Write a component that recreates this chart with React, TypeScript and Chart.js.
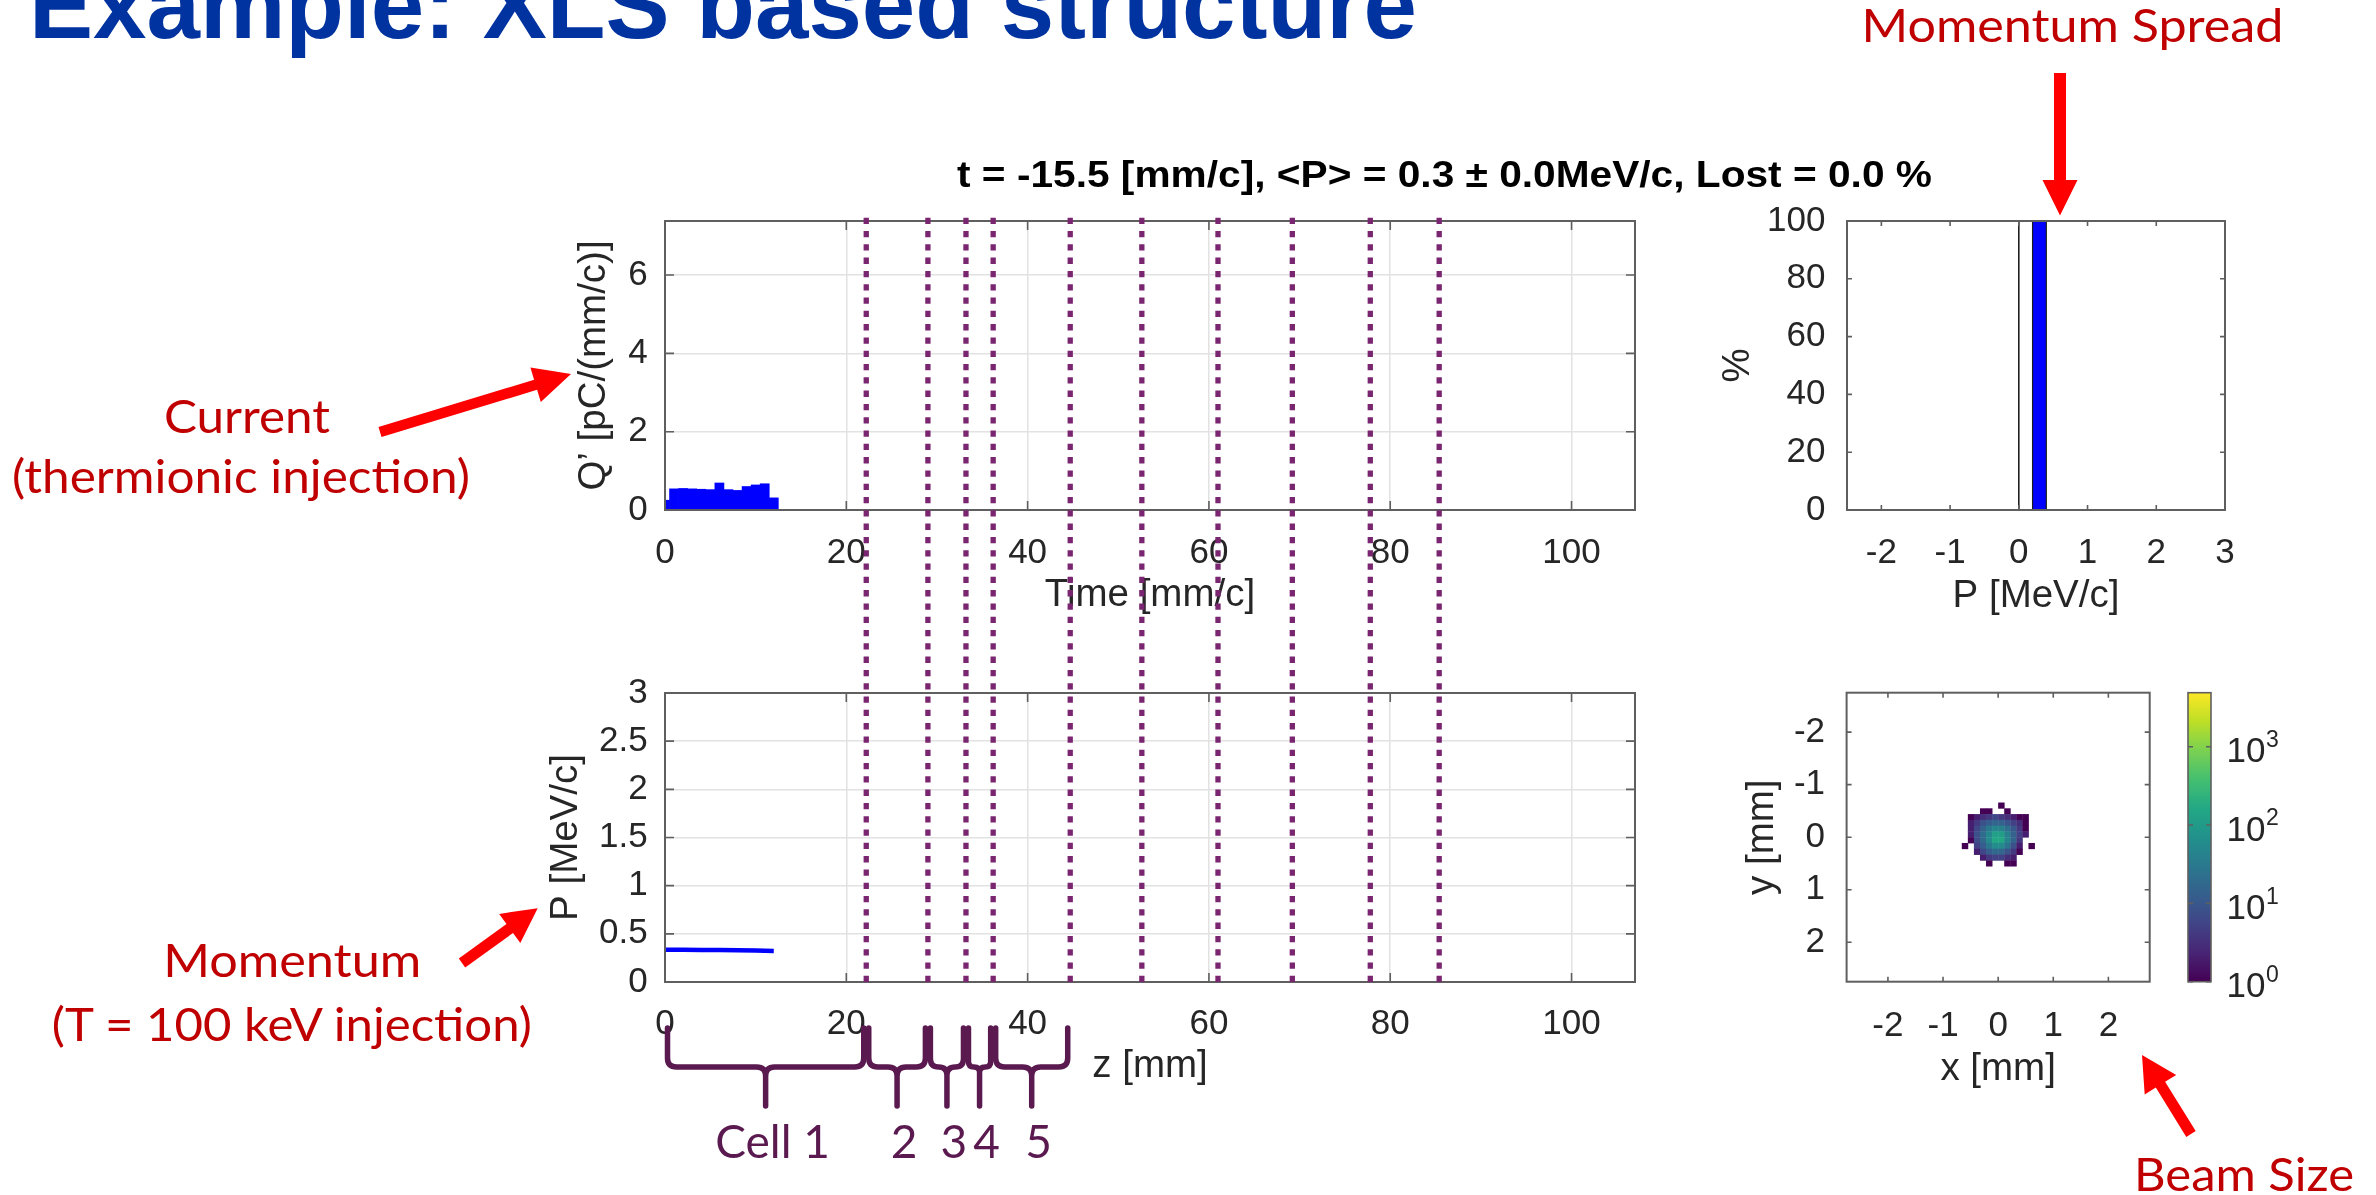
import React, { useEffect, useRef } from 'react';
import { Chart, registerables } from 'chart.js';

Chart.register(...registerables);

// ================= DATA =================
const timeBins = [0, 1, 2, 3, 4, 5, 6, 7, 8, 9, 10, 11, 12];
const chargeDensity = [0.25, 0.54, 0.55, 0.54, 0.53, 0.52, 0.69, 0.52, 0.5, 0.6, 0.64, 0.67, 0.31];
const zSamples = [0, 2, 4, 6, 8, 10, 12];
const momentumSamples = [0.335, 0.334, 0.333, 0.331, 0.329, 0.326, 0.322];
const cellBoundaries = [22.2, 29.0, 33.2, 36.2, 44.7, 52.6, 61.0, 69.2, 77.8, 85.4];
const cellLabels = ['Cell 1', '2', '3', '4', '5'];
const spreadEdges = [0.2, 0.4];
const spreadPercent = [100];
const referenceP = [0];
const leftXTicks = [0, 20, 40, 60, 80, 100];
const leftXRange = [0, 107];
const chargeTicks = [0, 2, 4, 6];
const chargeRange = [0, 7.38];
const momentumTicks = [0, 0.5, 1, 1.5, 2, 2.5, 3];
const momentumRange = [0, 3];
const spreadXTicks = [-2, -1, 0, 1, 2, 3];
const spreadXRange = [-2.5, 3];
const spreadYTicks = [0, 20, 40, 60, 80, 100];
const spreadYRange = [0, 100];
const beamTicks = [-2, -1, 0, 1, 2];
const beamRange = [-2.75, 2.75];
const colorbarTicks = [1, 10, 100, 1000];
const colorbarExponents = ['0', '1', '2', '3'];
const colorbarRange = [1, 4900];
const beamBinWidth = 0.11;
const beamFirstCol = -6;
const beamFirstRow = -6;
// rows top (y=-0.66) to bottom, columns x bins -6..5 (counts per bin, 0 = empty)
const beamCounts = [
  [0, 0, 0, 0, 0, 0, 1, 0, 0, 0, 0, 0],
  [0, 0, 0, 1, 1, 0, 0, 1, 0, 0, 0, 0],
  [0, 1, 2, 3, 4, 6, 4, 3, 2, 1, 1, 0],
  [0, 2, 4, 8, 12, 15, 14, 9, 5, 3, 1, 0],
  [0, 2, 6, 14, 30, 45, 40, 22, 10, 4, 1, 0],
  [0, 2, 8, 20, 50, 120, 110, 40, 14, 5, 2, 0],
  [0, 1, 7, 18, 55, 150, 160, 45, 15, 4, 0, 0],
  [1, 0, 5, 12, 30, 60, 55, 25, 8, 2, 0, 1],
  [0, 0, 2, 6, 12, 18, 16, 9, 4, 1, 0, 0],
  [0, 0, 0, 2, 4, 5, 5, 3, 2, 0, 0, 0],
  [0, 0, 0, 0, 1, 0, 0, 1, 1, 0, 0, 0],
];

// ================= STYLE / LAYOUT =================
const FONT = "'Liberation Sans', Arial, Helvetica, sans-serif";
const SLIDE_FONT = "Lato, 'Open Sans', sans-serif";
const TXT = '#262626';
const AXC = '#5f5f5f';
const GRID = '#e2e2e2';
const DOT = '#7a2570';
const BRACE = '#5a1a50';
const RED_TXT = '#c00000';
const RED = '#ff0000';
const TICK_SIZE = 35;
const TITLE_SIZE = 38.5;

type Rect = { x: number; y: number; w: number; h: number };
type Area = { l: number; t: number; r: number; b: number };

const CANVAS_A: Rect = { x: 480, y: 150, w: 1220, h: 490 };
const AREA_A: Area = { l: 665, t: 221, r: 1635, b: 510 };
const CANVAS_B: Rect = { x: 480, y: 640, w: 1220, h: 555 };
const AREA_B: Area = { l: 665, t: 693, r: 1635, b: 982 };
const CANVAS_C: Rect = { x: 1700, y: 150, w: 676, h: 490 };
const AREA_C: Area = { l: 1847, t: 221, r: 2225, b: 510 };
const CANVAS_D: Rect = { x: 1700, y: 640, w: 676, h: 555 };
const AREA_D: Area = { l: 1846.6, t: 692.7, r: 2149.7, b: 981.7 };

function frame(c: Rect, a: Area, xLabelY: number, xTitleY: number, yLabelRight: number, yTitleX: number) {
  return {
    padding: { left: 0, top: a.t - c.y, right: c.x + c.w - a.r, bottom: 0 },
    yWidth: a.l - c.x,
    xHeight: c.y + c.h - a.b,
    xTickPad: xLabelY - a.b - TICK_SIZE * 0.6,
    xTitlePad: c.y + c.h - xTitleY - TITLE_SIZE * 0.6,
    yTickPad: a.l - yLabelRight,
    yTitlePad: yTitleX - c.x - TITLE_SIZE * 0.6,
  };
}

function axis(o: any) {
  return {
    type: 'linear',
    min: o.range[0],
    max: o.range[1],
    reverse: !!o.reverse,
    offset: false,
    position: o.isX ? 'bottom' : 'left',
    afterBuildTicks: (s: any) => {
      s.ticks = o.ticks.map((v: number) => ({ value: v }));
    },
    afterFit: (s: any) => {
      if (o.isX) s.height = o.size;
      else s.width = o.size;
    },
    grid: { display: !!o.grid, color: GRID, lineWidth: 1.5, drawTicks: false, offset: false },
    border: { display: false },
    ticks: {
      color: TXT,
      font: { family: FONT, size: TICK_SIZE },
      padding: o.tickPad,
      callback: (v: any) => String(v),
      autoSkip: false,
      maxRotation: 0,
      minRotation: 0,
    },
    title: {
      display: true,
      text: o.title,
      color: TXT,
      font: { family: FONT, size: TITLE_SIZE },
      padding: o.isX ? { top: 0, bottom: o.titlePad } : { top: o.titlePad, bottom: 0 },
    },
  };
}

function boxPlugin(tickLen: number, xT: number[], yT: number[]) {
  return {
    id: 'matlabBox',
    afterDatasetsDraw(chart: any) {
      const { ctx, chartArea: a } = chart;
      const xs = chart.scales.x;
      const ys = chart.scales.y;
      ctx.save();
      ctx.setLineDash([]);
      ctx.strokeStyle = AXC;
      ctx.lineWidth = 1.6;
      ctx.beginPath();
      xT.forEach((v) => {
        const p = xs.getPixelForValue(v);
        ctx.moveTo(p, a.bottom);
        ctx.lineTo(p, a.bottom - tickLen);
        ctx.moveTo(p, a.top);
        ctx.lineTo(p, a.top + tickLen);
      });
      yT.forEach((v) => {
        const p = ys.getPixelForValue(v);
        ctx.moveTo(a.left, p);
        ctx.lineTo(a.left + tickLen, p);
        ctx.moveTo(a.right, p);
        ctx.lineTo(a.right - tickLen, p);
      });
      ctx.stroke();
      ctx.lineWidth = 2;
      ctx.strokeRect(a.left, a.top, a.right - a.left, a.bottom - a.top);
      ctx.restore();
    },
  };
}

const DASH_ON = 6.3;
const DASH_OFF = 7.0;
const DOT_START_PAGE = AREA_A.t - 3.3;

function cellLinePlugin(canvas: Rect, mode: 'top' | 'bottom') {
  return {
    id: 'cellLines',
    afterDraw(chart: any) {
      const { ctx, chartArea: a, height } = chart;
      const xs = chart.scales.x;
      const y0 = mode === 'top' ? a.top - 3.3 : 0;
      const y1 = mode === 'top' ? height : a.bottom + 2.3;
      const period = DASH_ON + DASH_OFF;
      const phase = ((((canvas.y + y0) - DOT_START_PAGE) % period) + period) % period;
      ctx.save();
      ctx.strokeStyle = DOT;
      ctx.lineWidth = 5.3;
      ctx.lineCap = 'butt';
      ctx.setLineDash([DASH_ON, DASH_OFF]);
      ctx.lineDashOffset = phase;
      cellBoundaries.forEach((b) => {
        const p = xs.getPixelForValue(b);
        ctx.beginPath();
        ctx.moveTo(p, y0);
        ctx.lineTo(p, y1);
        ctx.stroke();
      });
      ctx.restore();
    },
  };
}

const BRACE_TOP = 1028 - CANVAS_B.y;
const BRACE_MID = 1067 - CANVAS_B.y;
const BRACE_TIP = 1106 - CANVAS_B.y;
const BRACE_LABEL = 1158 - CANVAS_B.y;

const bracePlugin = {
  id: 'cellBraces',
  afterDraw(chart: any) {
    const { ctx } = chart;
    const xs = chart.scales.x;
    const edges = [leftXRange[0], ...cellBoundaries];
    ctx.save();
    ctx.setLineDash([]);
    ctx.strokeStyle = BRACE;
    ctx.fillStyle = BRACE;
    ctx.lineWidth = 5.5;
    ctx.lineCap = 'round';
    ctx.lineJoin = 'round';
    ctx.font = `46px ${SLIDE_FONT}`;
    ctx.textAlign = 'center';
    ctx.textBaseline = 'alphabetic';
    cellLabels.forEach((label, i) => {
      const x0 = xs.getPixelForValue(edges[i]) + 2.5;
      const x1 = xs.getPixelForValue(edges[i + 1]) - 2.5;
      const m = (x0 + x1) / 2;
      const r = Math.min(9, (m - x0) / 2);
      ctx.beginPath();
      ctx.moveTo(x0, BRACE_TOP);
      ctx.lineTo(x0, BRACE_MID - r);
      ctx.quadraticCurveTo(x0, BRACE_MID, x0 + r, BRACE_MID);
      ctx.lineTo(m - r, BRACE_MID);
      ctx.quadraticCurveTo(m, BRACE_MID, m, BRACE_MID + r);
      ctx.lineTo(m, BRACE_TIP);
      ctx.moveTo(x1, BRACE_TOP);
      ctx.lineTo(x1, BRACE_MID - r);
      ctx.quadraticCurveTo(x1, BRACE_MID, x1 - r, BRACE_MID);
      ctx.lineTo(m + r, BRACE_MID);
      ctx.quadraticCurveTo(m, BRACE_MID, m, BRACE_MID + r);
      ctx.stroke();
      ctx.fillText(label, m + 7, BRACE_LABEL);
    });
    ctx.restore();
  },
};

const VIRIDIS = ['#440154', '#482475', '#414487', '#355f8d', '#2a788e', '#21918c', '#22a884', '#44bf70', '#7ad151', '#bddf26', '#fde725'];
function hexRgb(h: string) {
  return [parseInt(h.slice(1, 3), 16), parseInt(h.slice(3, 5), 16), parseInt(h.slice(5, 7), 16)];
}
function viridis(t: number) {
  const tt = Math.max(0, Math.min(1, t));
  const f = tt * 10;
  const i = Math.min(9, Math.floor(f));
  const u = f - i;
  const a = hexRgb(VIRIDIS[i]);
  const b = hexRgb(VIRIDIS[i + 1]);
  const c = a.map((v, k) => Math.round(v + (b[k] - v) * u));
  return `rgb(${c[0]},${c[1]},${c[2]})`;
}

const heatmapPlugin = {
  id: 'beamHeatmap',
  beforeDatasetsDraw(chart: any) {
    const { ctx } = chart;
    const xs = chart.scales.x;
    const ys = chart.scales.y;
    const cb = chart.scales.cb;
    const span = cb.bottom - cb.top;
    ctx.save();
    beamCounts.forEach((row, ri) => {
      row.forEach((count, ci) => {
        if (count <= 0) return;
        const kx = beamFirstCol + ci;
        const ky = beamFirstRow + ri;
        const xa = xs.getPixelForValue(kx * beamBinWidth);
        const xb = xs.getPixelForValue((kx + 1) * beamBinWidth);
        const ya = ys.getPixelForValue(ky * beamBinWidth);
        const yb = ys.getPixelForValue((ky + 1) * beamBinWidth);
        const t = (cb.bottom - cb.getPixelForValue(count)) / span;
        ctx.fillStyle = viridis(t);
        ctx.fillRect(Math.min(xa, xb), Math.min(ya, yb), Math.abs(xb - xa) + 0.4, Math.abs(yb - ya) + 0.4);
      });
    });
    ctx.restore();
  },
  afterDraw(chart: any) {
    const { ctx } = chart;
    const cb = chart.scales.cb;
    const x0 = cb.left + 38.3;
    const w = 23;
    const yb = cb.getPixelForValue(colorbarRange[0]);
    const yt = cb.getPixelForValue(colorbarRange[1]);
    ctx.save();
    const g = ctx.createLinearGradient(0, yb, 0, yt);
    VIRIDIS.forEach((c, i) => g.addColorStop(i / (VIRIDIS.length - 1), c));
    ctx.fillStyle = g;
    ctx.fillRect(x0, yt, w, yb - yt);
    ctx.strokeStyle = AXC;
    ctx.lineWidth = 1.6;
    ctx.strokeRect(x0, yt, w, yb - yt);
    ctx.beginPath();
    colorbarTicks.forEach((v) => {
      const p = cb.getPixelForValue(v);
      ctx.moveTo(x0 + w, p);
      ctx.lineTo(x0 + w - 5, p);
      ctx.moveTo(x0, p);
      ctx.lineTo(x0 + 5, p);
    });
    ctx.stroke();
    ctx.fillStyle = TXT;
    ctx.textAlign = 'left';
    ctx.textBaseline = 'middle';
    colorbarTicks.forEach((v, i) => {
      const p = cb.getPixelForValue(v);
      const lx = cb.left + 76.8;
      ctx.font = `${TICK_SIZE}px ${FONT}`;
      ctx.fillText('10', lx, p + 6);
      const wd = ctx.measureText('10').width;
      ctx.font = `23px ${FONT}`;
      ctx.fillText(colorbarExponents[i], lx + wd + 0.5, p - 6);
    });
    ctx.restore();
  },
};

const base = {
  responsive: false,
  animation: false,
  devicePixelRatio: 1,
  events: [],
};

function configA() {
  const f = frame(CANVAS_A, AREA_A, 553, 595, 647.7, 594);
  return {
    type: 'bar',
    data: {
      datasets: [
        {
          data: timeBins.map((x, i) => ({ x, y: chargeDensity[i] })),
          backgroundColor: '#0000ff',
          borderWidth: 0,
          barPercentage: 1,
          categoryPercentage: 1,
          clip: 0,
        },
      ],
    },
    options: {
      ...base,
      layout: { padding: f.padding },
      plugins: { legend: { display: false }, tooltip: { enabled: false } },
      scales: {
        x: axis({ range: leftXRange, ticks: leftXTicks, title: 'Time [mm/c]', grid: true, isX: true, size: f.xHeight, tickPad: f.xTickPad, titlePad: f.xTitlePad }),
        y: axis({ range: chargeRange, ticks: chargeTicks, title: 'Q’ [pC/(mm/c)]', grid: true, isX: false, size: f.yWidth, tickPad: f.yTickPad, titlePad: f.yTitlePad }),
      },
    },
    plugins: [boxPlugin(9, leftXTicks, chargeTicks), cellLinePlugin(CANVAS_A, 'top')],
  };
}

function configB() {
  const f = frame(CANVAS_B, AREA_B, 1024, 1066, 647.7, 566);
  return {
    type: 'line',
    data: {
      datasets: [
        {
          data: zSamples.map((x, i) => ({ x, y: momentumSamples[i] })),
          borderColor: '#0000ff',
          borderWidth: 4.5,
          pointRadius: 0,
          fill: false,
        },
      ],
    },
    options: {
      ...base,
      layout: { padding: f.padding },
      plugins: { legend: { display: false }, tooltip: { enabled: false } },
      scales: {
        x: axis({ range: leftXRange, ticks: leftXTicks, title: 'z [mm]', grid: true, isX: true, size: f.xHeight, tickPad: f.xTickPad, titlePad: f.xTitlePad }),
        y: axis({ range: momentumRange, ticks: momentumTicks, title: 'P [MeV/c]', grid: true, isX: false, size: f.yWidth, tickPad: f.yTickPad, titlePad: f.yTitlePad }),
      },
    },
    plugins: [boxPlugin(9, leftXTicks, momentumTicks), cellLinePlugin(CANVAS_B, 'bottom'), bracePlugin],
  };
}

function configC() {
  const f = frame(CANVAS_C, AREA_C, 553.6, 596, 1825.4, 1738.6);
  const histPts: any[] = [];
  spreadPercent.forEach((v, i) => {
    histPts.push({ x: spreadEdges[i], y: 0 }, { x: spreadEdges[i], y: v }, { x: spreadEdges[i + 1], y: v }, { x: spreadEdges[i + 1], y: 0 });
  });
  return {
    type: 'line',
    data: {
      datasets: [
        {
          data: histPts,
          fill: 'origin',
          backgroundColor: '#0000ff',
          borderColor: '#1a1a1a',
          borderWidth: 1.2,
          pointRadius: 0,
        },
        {
          data: referenceP.flatMap((p) => [{ x: p, y: spreadYRange[0] }, { x: p, y: spreadYRange[1] }]),
          borderColor: '#111111',
          borderWidth: 1.5,
          pointRadius: 0,
          fill: false,
        },
      ],
    },
    options: {
      ...base,
      layout: { padding: f.padding },
      plugins: { legend: { display: false }, tooltip: { enabled: false } },
      scales: {
        x: axis({ range: spreadXRange, ticks: spreadXTicks, title: 'P [MeV/c]', grid: false, isX: true, size: f.xHeight, tickPad: f.xTickPad, titlePad: f.xTitlePad }),
        y: axis({ range: spreadYRange, ticks: spreadYTicks, title: '%', grid: false, isX: false, size: f.yWidth, tickPad: f.yTickPad, titlePad: f.yTitlePad }),
      },
    },
    plugins: [boxPlugin(5, spreadXTicks, spreadYTicks)],
  };
}

function configD() {
  const f = frame(CANVAS_D, AREA_D, 1026.7, 1069, 1825, 1762);
  const cbWidth = f.padding.right;
  return {
    type: 'scatter',
    data: { datasets: [] },
    options: {
      ...base,
      layout: { padding: { ...f.padding, right: 0 } },
      plugins: { legend: { display: false }, tooltip: { enabled: false } },
      scales: {
        x: axis({ range: beamRange, ticks: beamTicks, title: 'x [mm]', grid: false, isX: true, size: f.xHeight, tickPad: f.xTickPad, titlePad: f.xTitlePad }),
        y: axis({ range: beamRange, ticks: beamTicks, title: 'y [mm]', grid: false, isX: false, reverse: true, size: f.yWidth, tickPad: f.yTickPad, titlePad: f.yTitlePad }),
        cb: {
          type: 'logarithmic',
          position: 'right',
          min: colorbarRange[0],
          max: colorbarRange[1],
          display: true,
          afterBuildTicks: (s: any) => {
            s.ticks = colorbarTicks.map((v) => ({ value: v }));
          },
          afterFit: (s: any) => {
            s.width = cbWidth;
          },
          ticks: { display: false },
          grid: { display: false, drawTicks: false },
          border: { display: false },
        },
      },
    },
    plugins: [heatmapPlugin, boxPlugin(5, beamTicks, beamTicks)],
  };
}

function arrowPoints(x1: number, y1: number, x2: number, y2: number, shaft: number, headL: number, headW: number) {
  const dx = x2 - x1;
  const dy = y2 - y1;
  const L = Math.hypot(dx, dy);
  const ux = dx / L;
  const uy = dy / L;
  const nx = -uy;
  const ny = ux;
  const bx = x2 - ux * headL;
  const by = y2 - uy * headL;
  const s = shaft / 2;
  const h = headW / 2;
  const pts = [
    [x1 + nx * s, y1 + ny * s],
    [bx + nx * s, by + ny * s],
    [bx + nx * h, by + ny * h],
    [x2, y2],
    [bx - nx * h, by - ny * h],
    [bx - nx * s, by - ny * s],
    [x1 - nx * s, y1 - ny * s],
  ];
  return pts.map((p) => `${p[0].toFixed(1)},${p[1].toFixed(1)}`).join(' ');
}

const canvasStyle = (r: Rect): React.CSSProperties => ({
  position: 'absolute',
  left: r.x,
  top: r.y,
  width: r.w,
  height: r.h,
});

export default function App() {
  const refA = useRef<HTMLCanvasElement>(null);
  const refB = useRef<HTMLCanvasElement>(null);
  const refC = useRef<HTMLCanvasElement>(null);
  const refD = useRef<HTMLCanvasElement>(null);

  useEffect(() => {
    Chart.defaults.font.family = FONT;
    const charts = [
      new Chart(refA.current as any, configA() as any),
      new Chart(refB.current as any, configB() as any),
      new Chart(refC.current as any, configC() as any),
      new Chart(refD.current as any, configD() as any),
    ];
    return () => charts.forEach((c) => c.destroy());
  }, []);

  const red = { fontFamily: SLIDE_FONT, fontSize: 46, fill: RED_TXT } as any;

  return (
    <div style={{ position: 'absolute', left: 0, top: 0, width: 2376, height: 1195, background: '#ffffff', overflow: 'hidden' }}>
      <canvas ref={refA} width={CANVAS_A.w} height={CANVAS_A.h} style={canvasStyle(CANVAS_A)} />
      <canvas ref={refB} width={CANVAS_B.w} height={CANVAS_B.h} style={canvasStyle(CANVAS_B)} />
      <canvas ref={refC} width={CANVAS_C.w} height={CANVAS_C.h} style={canvasStyle(CANVAS_C)} />
      <canvas ref={refD} width={CANVAS_D.w} height={CANVAS_D.h} style={canvasStyle(CANVAS_D)} />
      <svg width={2376} height={1195} style={{ position: 'absolute', left: 0, top: 0, pointerEvents: 'none' }}>
        <text x={29} y={38} fontFamily={FONT} fontWeight="bold" fontSize={96} fill="#0033a0" textLength={1388} lengthAdjust="spacingAndGlyphs">
          Example: XLS based structure
        </text>
        <text x={1444.5} y={186.5} textAnchor="middle" fontFamily={FONT} fontWeight="bold" fontSize={37} fill="#000000" textLength={975} lengthAdjust="spacingAndGlyphs">
          {'t = -15.5 [mm/c], <P> = 0.3 ± 0.0MeV/c, Lost = 0.0 %'}
        </text>
        <text x={246.9} y={432.7} textAnchor="middle" {...red} textLength={166} lengthAdjust="spacingAndGlyphs">Current</text>
        <text x={241} y={493.3} textAnchor="middle" {...red} textLength={458} lengthAdjust="spacingAndGlyphs">(thermionic injection)</text>
        <text x={292.2} y={976.7} textAnchor="middle" {...red} textLength={258} lengthAdjust="spacingAndGlyphs">Momentum</text>
        <text x={291.8} y={1040.7} textAnchor="middle" {...red} textLength={480} lengthAdjust="spacingAndGlyphs">(T = 100 keV injection)</text>
        <text x={2072.5} y={42} textAnchor="middle" {...red} textLength={422} lengthAdjust="spacingAndGlyphs">Momentum Spread</text>
        <text x={2244} y={1191} textAnchor="middle" {...red} textLength={220} lengthAdjust="spacingAndGlyphs">Beam Size</text>
        <polygon points={arrowPoints(380, 432, 571, 374, 10.5, 37, 36)} fill={RED} />
        <polygon points={arrowPoints(462, 963, 537.7, 908.3, 11, 34.5, 36)} fill={RED} />
        <polygon points={arrowPoints(2060, 73, 2060, 215.5, 12, 35.5, 35)} fill={RED} />
        <polygon points={arrowPoints(2191, 1134, 2142, 1055, 11, 35, 37)} fill={RED} />
      </svg>
    </div>
  );
}
